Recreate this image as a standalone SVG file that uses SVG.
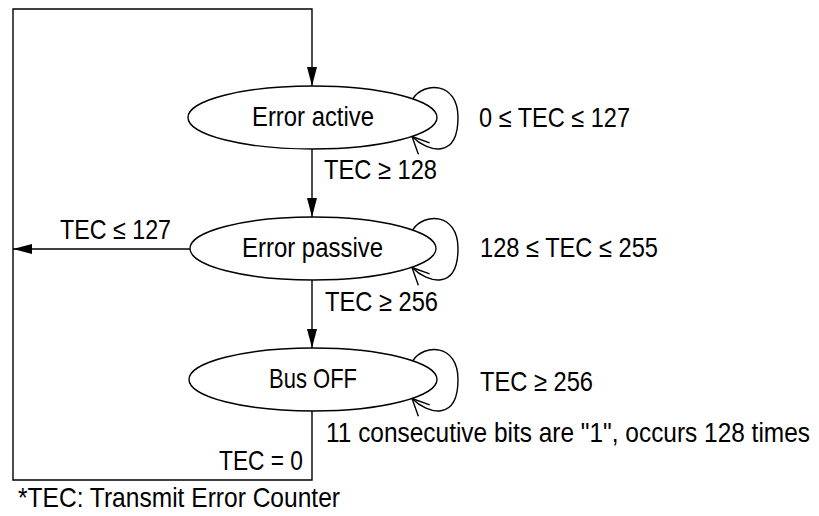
<svg xmlns="http://www.w3.org/2000/svg" width="819" height="516" viewBox="0 0 819 516">
<style>
  .node ellipse { fill: #ffffff; stroke: #000000; stroke-width: 1.4; }
  .edge { fill: none; stroke: #000000; stroke-width: 1.4; }
  text { font-family: "Liberation Sans", Arial, sans-serif; font-size: 27.5px; fill: #000000; }
</style>
<defs>
  <marker id="solid" markerWidth="20" markerHeight="12" refX="19" refY="5" orient="auto" markerUnits="userSpaceOnUse" viewBox="0 0 20 10">
    <path d="M0,0 L19,5 L0,10 Z" fill="#000000"/>
  </marker>
  <marker id="open" markerWidth="22" markerHeight="20" refX="19" refY="9" orient="auto" markerUnits="userSpaceOnUse" viewBox="0 0 22 18">
    <path d="M2,1 L19,9 L2,17" fill="none" stroke="#000000" stroke-width="1.4"/>
  </marker>
</defs>
<rect width="819" height="516" fill="#ffffff"/>

<g id="connectors">
  <polyline class="edge" points="312,411 312,480 13,480 13,9 312,9 312,86" marker-end="url(#solid)"/>
  <line class="edge" x1="312" y1="149" x2="312" y2="217" marker-end="url(#solid)"/>
  <line class="edge" x1="312" y1="280" x2="312" y2="348" marker-end="url(#solid)"/>
  <line class="edge" x1="190" y1="249" x2="13" y2="249" marker-end="url(#solid)"/>
  <path class="edge" d="M413,98.5 C424,81.5 458,81.5 458,117.5 C458,159.5 428,152.5 412,136.5" marker-end="url(#open)"/>
  <path class="edge" d="M413,229.5 C424,212.5 458,212.5 458,248.5 C458,290.5 428,283.5 412,267.5" marker-end="url(#open)"/>
  <path class="edge" d="M413,360.5 C424,343.5 458,343.5 458,379.5 C458,421.5 428,414.5 412,398.5" marker-end="url(#open)"/>
  <text x="479" y="127" textLength="151" lengthAdjust="spacingAndGlyphs">0 ≤ TEC ≤ 127</text>
  <text x="324" y="179" textLength="113" lengthAdjust="spacingAndGlyphs">TEC ≥ 128</text>
  <text x="60" y="239" textLength="111" lengthAdjust="spacingAndGlyphs">TEC ≤ 127</text>
  <text x="480" y="257" textLength="178" lengthAdjust="spacingAndGlyphs">128 ≤ TEC ≤ 255</text>
  <text x="325" y="311" textLength="113" lengthAdjust="spacingAndGlyphs">TEC ≥ 256</text>
  <text x="480" y="391" textLength="113" lengthAdjust="spacingAndGlyphs">TEC ≥ 256</text>
  <text x="326" y="442" textLength="484" lengthAdjust="spacingAndGlyphs">11 consecutive bits are "1", occurs 128 times</text>
  <text x="219" y="470" textLength="84" lengthAdjust="spacingAndGlyphs">TEC = 0</text>
</g>

<g id="error-active" class="node">
  <ellipse cx="312.5" cy="117.5" rx="124.5" ry="31.5"/>
  <text x="252" y="126" textLength="122" lengthAdjust="spacingAndGlyphs">Error active</text>
</g>
<g id="error-passive" class="node">
  <ellipse cx="313" cy="248.5" rx="123" ry="31.5"/>
  <text x="242" y="257" textLength="141" lengthAdjust="spacingAndGlyphs">Error passive</text>
</g>
<g id="bus-off" class="node">
  <ellipse cx="313" cy="379.5" rx="124" ry="31.5"/>
  <text x="269" y="388" textLength="88" lengthAdjust="spacingAndGlyphs">Bus OFF</text>
</g>

<g id="footnote">
  <text x="18" y="507" textLength="322" lengthAdjust="spacingAndGlyphs">*TEC: Transmit Error Counter</text>
</g>
</svg>
